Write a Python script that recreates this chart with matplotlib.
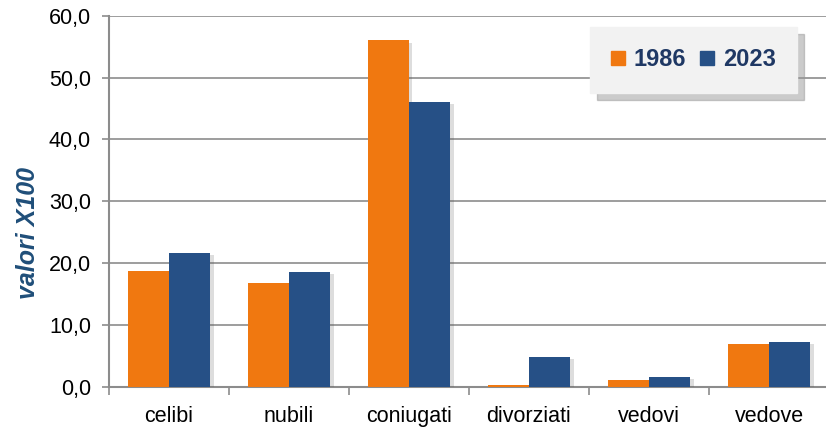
import matplotlib
matplotlib.use('Agg')
import matplotlib.pyplot as plt
import matplotlib.patheffects as pe
from matplotlib.ticker import FuncFormatter
from matplotlib.lines import Line2D
import numpy as np

categories = ['celibi', 'nubili', 'coniugati', 'divorziati', 'vedovi', 'vedove']
val_1986 = [18.8, 16.8, 56.0, 0.3, 1.2, 7.0]
val_2023 = [21.7, 18.6, 46.0, 4.9, 1.6, 7.3]
series_labels = ['1986', '2023']

orange = '#F07810'
blue = '#265086'
grey = '#8C8C8C'

plt.rcParams['font.family'] = ['Liberation Sans', 'DejaVu Sans']

fig = plt.figure(figsize=(8.26, 4.33), dpi=100)
ax = fig.add_axes([109/826, 46/433, 720/826, 371.3/433])

x = np.arange(len(categories))
w = 0.345
shadow = [pe.SimplePatchShadow(offset=(2.5, -1.5), alpha=0.2, shadow_rgbFace='#555555'), pe.Normal()]
b1 = ax.bar(x - w/2, val_1986, w, color=orange, zorder=3)
b2 = ax.bar(x + w/2, val_2023, w, color=blue, zorder=3)
for r in list(b1) + list(b2):
    r.set_path_effects(shadow)

ax.set_xlim(-0.5, len(categories) - 0.5)
ax.set_ylim(0, 60)
ax.set_yticks(np.arange(0, 61, 10))
ax.yaxis.set_major_formatter(FuncFormatter(lambda v, p: f'{v:.1f}'.replace('.', ',')))
ax.yaxis.grid(True, color=grey, linewidth=1.2, zorder=0)
ax.set_axisbelow(True)

ax.set_xticks(x)
ax.set_xticklabels(categories)
ax.set_xticks(np.arange(-0.5, len(categories), 1), minor=True)
ax.tick_params(axis='x', which='major', length=0, pad=14, labelsize=15.5)
ax.tick_params(axis='x', which='minor', length=6, width=1.2, color=grey)
ax.tick_params(axis='y', length=5, width=1.2, color=grey, labelsize=15.5, pad=8)

for s in ['top', 'right']:
    ax.spines[s].set_visible(False)
for s in ['left', 'bottom']:
    ax.spines[s].set_color(grey)
    ax.spines[s].set_linewidth(1.5)

ax.set_ylabel('valori X100', fontsize=18, fontweight='bold', style='italic', color='#1F4E79')
ax.yaxis.set_label_coords(-0.0958, 0.415)

handles = [Line2D([], [], marker='s', linestyle='none', markersize=9.5, color=orange),
           Line2D([], [], marker='s', linestyle='none', markersize=9.5, color=blue)]
leg = ax.legend(handles, series_labels, ncol=2, loc='upper right', bbox_to_anchor=(688/720, 1 - 11.5/371.3),
                frameon=True, fancybox=False, shadow={'ox': 5, 'oy': -5, 'color': '#999999', 'alpha': 0.5},
                facecolor='#F2F2F2', edgecolor='#F2F2F2', framealpha=1,
                prop={'weight': 'bold', 'size': 17}, handletextpad=0.4, columnspacing=0.6,
                borderpad=0.9, handlelength=0.55, borderaxespad=0)
for t in leg.get_texts():
    t.set_color('#1F3864')

fig.savefig('out.png', dpi=100)
